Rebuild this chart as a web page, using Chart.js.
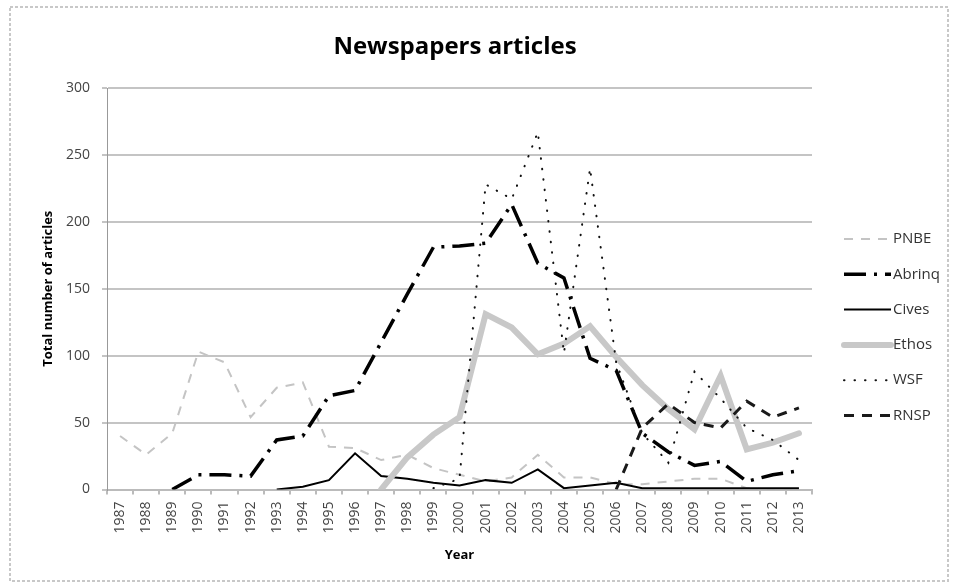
<!DOCTYPE html>
<html>
<head>
<meta charset="utf-8">
<title>Newspapers articles</title>
<script src="https://cdn.jsdelivr.net/npm/chart.js@4.4.1/dist/chart.umd.min.js"></script>
<style>
  html, body { margin: 0; padding: 0; background: #fff; }
  #wrap { width: 957px; height: 588px; }
</style>
</head>
<body>
<div id="wrap"><canvas id="news-chart" width="957" height="588"></canvas></div>
<script>
// Data
const years = ["1987", "1988", "1989", "1990", "1991", "1992", "1993", "1994", "1995",
  "1996", "1997", "1998", "1999", "2000", "2001", "2002", "2003", "2004", "2005",
  "2006", "2007", "2008", "2009", "2010", "2011", "2012", "2013"];

const pnbe = [40, 26, 42, 103, 95, 54, 76, 80, 32, 31, 22, 26, 16, 11, 6, 9, 26, 9, 9,
  4, 4, 6, 8, 8, 1, 0, 0];
const abrinq = [null, null, 0, 11, 11, 10, 37, 40, 70, 74, 110, 146, 181, 182, 184, 213,
  169, 158, 98, 89, 42, 28, 18, 21, 6, 11, 14];
const cives = [null, null, null, null, null, null, 0, 2, 7, 27, 10, 8, 5, 3, 7, 5, 15,
  1, 3, 5, 1, 1, 1, 1, 1, 1, 1];
const ethos = [null, null, null, null, null, null, null, null, null, null, 0, 24, 41, 54,
  131, 121, 101, 109, 122, 99, 78, 60, 45, 85, 30, 35, 42];
const wsf = [null, null, null, null, null, null, null, null, null, null, null, null, 1, 8,
  228, 217, 267, 102, 240, 95, 42, 20, 88, 68, 46, 37, 22];
const rnsp = [null, null, null, null, null, null, null, null, null, null, null, null, null,
  null, null, null, null, null, null, 0, 46, 64, 50, 46, 66, 54, 61];

const yTickValues = [0, 50, 100, 150, 200, 250, 300];

const FONT = "'Open Sans', 'DejaVu Sans', sans-serif";
Chart.defaults.font.family = FONT;

// Chart area frame, title and the legend at the right
const decorPlugin = {
  id: "decor",
  beforeDraw(chart) {
    const ctx = chart.ctx;
    ctx.save();
    ctx.fillStyle = "#fff";
    ctx.fillRect(0, 0, chart.width, chart.height);
    ctx.strokeStyle = "#c8c8c8";
    ctx.lineWidth = 2;
    ctx.setLineDash([3, 2]);
    ctx.strokeRect(10, 7, 938, 574);
    ctx.restore();
  },
  afterDraw(chart) {
    const ctx = chart.ctx;
    ctx.save();
    ctx.fillStyle = "#000";
    ctx.font = "bold 24px " + FONT;
    ctx.textAlign = "center";
    ctx.textBaseline = "middle";
    ctx.fillText("Newspapers articles", 455, 47);

    // legend
    const x0 = 844, x1 = 891;
    let y = 239;
    chart.data.datasets.forEach((ds) => {
      ctx.beginPath();
      ctx.setLineDash(ds.borderDash || []);
      ctx.lineWidth = ds.borderWidth;
      ctx.strokeStyle = ds.borderColor;
      ctx.lineCap = ds.borderCapStyle || "butt";
      ctx.moveTo(x0, y);
      ctx.lineTo(x1, y);
      ctx.stroke();
      ctx.setLineDash([]);
      ctx.fillStyle = "#333";
      ctx.font = "15px " + FONT;
      ctx.textAlign = "left";
      ctx.textBaseline = "middle";
      ctx.fillText(ds.label, 893, y);
      y += 35.3;
    });
    ctx.restore();
  },
};

const ctx = document.getElementById("news-chart");
const newsChart = new Chart(ctx, {
  type: "line",
  data: {
    labels: years,
    datasets: [
      {
        label: "PNBE",
        data: pnbe,
        borderColor: "#c4c4c4",
        borderWidth: 2,
        borderDash: [9, 8],
        order: 6,
      },
      {
        label: "Abrinq",
        data: abrinq,
        borderColor: "#000",
        borderWidth: 3.5,
        borderDash: [22, 8, 3, 8],
        order: 5,
      },
      {
        label: "Cives",
        data: cives,
        borderColor: "#000",
        borderWidth: 2,
        order: 4,
      },
      {
        label: "Ethos",
        data: ethos,
        borderColor: "#c8c8c8",
        borderWidth: 6,
        borderCapStyle: "round",
        order: 3,
      },
      {
        label: "WSF",
        data: wsf,
        borderColor: "#111",
        borderWidth: 2,
        borderDash: [0.5, 10],
        borderCapStyle: "round",
        order: 2,
      },
      {
        label: "RNSP",
        data: rnsp,
        borderColor: "#1a1a1a",
        borderWidth: 3,
        borderDash: [10, 8],
        order: 1,
      },
    ],
  },
  options: {
    responsive: false,
    animation: false,
    spanGaps: false,
    elements: {
      point: { radius: 0, hoverRadius: 0 },
      line: { tension: 0, borderJoinStyle: "miter" },
    },
    layout: {
      padding: { left: 0, right: 145, top: 88, bottom: 0 },
    },
    plugins: {
      legend: { display: false },
      title: { display: false },
      tooltip: { enabled: false },
    },
    scales: {
      x: {
        offset: true,
        grid: {
          offset: true,
          drawOnChartArea: false,
          drawTicks: true,
          tickLength: 5,
          color: "#bbb",
          lineWidth: 2,
        },
        border: { display: true, color: "#bbb", width: 2 },
        ticks: {
          autoSkip: false,
          minRotation: 90,
          maxRotation: 90,
          padding: 7,
          color: "#444",
          font: { size: 14 },
        },
        title: {
          display: true,
          text: "Year",
          color: "#000",
          font: { size: 13, weight: "bold" },
          padding: { top: 0, bottom: 25 },
        },
        afterFit(scale) {
          scale.height = 98.5;
        },
      },
      y: {
        min: 0,
        max: 300,
        afterBuildTicks(scale) {
          scale.ticks = yTickValues.map((v) => ({ value: v }));
        },
        grid: {
          color: "#c4c4c4",
          lineWidth: 2,
          drawTicks: true,
          tickLength: 5,
        },
        border: { display: true, color: "#999", width: 1 },
        ticks: {
          padding: 12,
          color: "#444",
          font: { size: 14 },
        },
        title: {
          display: true,
          text: "Total number of articles",
          color: "#000",
          font: { size: 13, weight: "bold" },
          padding: { top: 40, bottom: 0 },
        },
        afterFit(scale) {
          scale.width = 107;
        },
      },
    },
  },
  plugins: [decorPlugin],
});
</script>
</body>
</html>
